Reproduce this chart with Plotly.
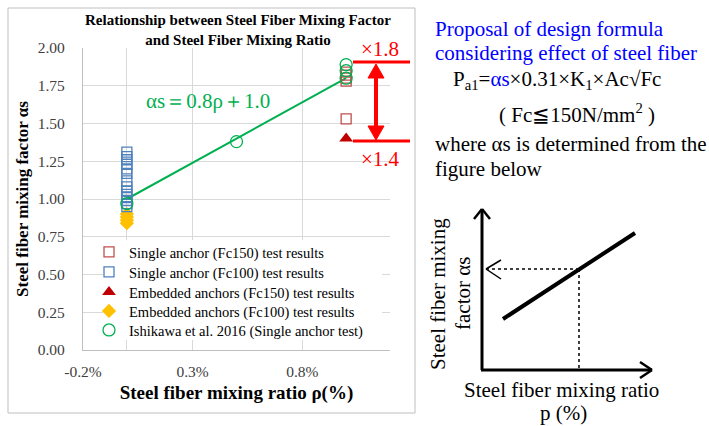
import plotly.graph_objects as go

# ---------------- data ----------------
fc150_single_x = [1.0, 1.0, 1.0, 1.0, 1.0]
fc150_single_y = [1.84, 1.82, 1.80, 1.78, 1.53]

fc100_single_x = [0.0] * 14
fc100_single_y = [1.31, 1.28, 1.26, 1.23, 1.20, 1.17, 1.12, 1.08, 1.05, 1.03, 1.01, 0.99, 0.97, 0.95]

fc150_embed_x = [1.0]
fc150_embed_y = [1.40]

fc100_embed_x = [0.0, 0.0, 0.0, 0.0]
fc100_embed_y = [0.90, 0.88, 0.86, 0.84]

ishikawa_x = [0.0, 0.5, 1.0, 1.0, 1.0]
ishikawa_y = [0.97, 1.38, 1.89, 1.85, 1.80]

fit_x = [0.0, 1.0]
fit_y = [1.0, 1.8]

y_ticks = [0.0, 0.25, 0.5, 0.75, 1.0, 1.25, 1.5, 1.75, 2.0]
x_tickvals = [-0.2, 0.0, 0.3, 0.8]
x_ticktext = ["-0.2%", "", "0.3%", "0.8%"]

# ---------------- layout helpers (pixel -> paper) ----------------
W, H = 709, 426
L, R, T, B = 83, 390, 48, 350


def px(x):
    return (x - L) / (R - L)


def py(y):
    return (B - y) / (B - T)


SERIF = "Liberation Serif"

fig = go.Figure()

fig.add_trace(go.Scatter(
    x=fit_x, y=fit_y, mode="lines", line=dict(color="#00B050", width=2),
    showlegend=False, hoverinfo="skip"))

fig.add_trace(go.Scatter(
    x=fc100_embed_x, y=fc100_embed_y, mode="markers",
    name="Embedded anchors (Fc100) test results", legend="legend4",
    marker=dict(symbol="diamond", size=11, color="#FFC000")))

fig.add_trace(go.Scatter(
    x=fc150_single_x, y=fc150_single_y, mode="markers",
    name="Single anchor (Fc150) test results", legend="legend",
    marker=dict(symbol="square-open", size=10, color="#C0504D", line=dict(width=1.3))))

fig.add_trace(go.Scatter(
    x=fc100_single_x, y=fc100_single_y, mode="markers",
    name="Single anchor (Fc100) test results", legend="legend2",
    marker=dict(symbol="square-open", size=10, color="#4F81BD", line=dict(width=1.3))))

fig.add_trace(go.Scatter(
    x=fc150_embed_x, y=fc150_embed_y, mode="markers",
    name="Embedded anchors (Fc150) test results", legend="legend3",
    marker=dict(symbol="triangle-up", size=12, color="#C00000")))

fig.add_trace(go.Scatter(
    x=ishikawa_x, y=ishikawa_y, mode="markers",
    name="Ishikawa et al. 2016 (Single anchor test)", legend="legend5",
    marker=dict(symbol="circle-open", size=12, color="#00B050", line=dict(width=1.3))))

shapes = []
annotations = []


def note(text, x, y, size, color="#000000", xanchor="center", angle=0):
    annotations.append(dict(text=text, x=px(x), y=py(y), xref="paper", yref="paper",
                            xanchor=xanchor, yanchor="middle", textangle=angle,
                            showarrow=False, font=dict(family=SERIF, size=size, color=color)))


# chart frame
shapes.append(dict(type="rect", xref="paper", yref="paper",
                   x0=px(8), x1=px(415), y0=py(413), y1=py(8),
                   line=dict(color="#BFBFBF", width=1), layer="below"))

# legend box background (hides gridlines behind legend)
shapes.append(dict(type="rect", xref="paper", yref="paper",
                   x0=px(103), x1=px(382), y0=py(340), y1=py(240),
                   fillcolor="white", line=dict(width=0), layer="above"))

# red bracket
RED = "#FF0000"
for yy in (62, 141):
    shapes.append(dict(type="line", xref="paper", yref="paper",
                       x0=px(353), x1=px(410), y0=py(yy), y1=py(yy),
                       line=dict(color=RED, width=3)))
shapes.append(dict(type="line", xref="paper", yref="paper",
                   x0=px(376), x1=px(376), y0=py(76), y1=py(127),
                   line=dict(color=RED, width=4)))


def tri(pts, color):
    d = "M " + " L ".join(f"{px(a)},{py(b)}" for a, b in pts) + " Z"
    return dict(type="path", xref="paper", yref="paper", path=d,
                fillcolor=color, line=dict(color=color, width=1))


shapes.append(tri([(376, 64), (368, 78), (384, 78)], RED))
shapes.append(tri([(376, 140), (368, 126), (384, 126)], RED))

note("×1.8", 380, 49, 21, RED)
note("×1.4", 380, 159, 21, RED)

# equation label
note("αs＝0.8ρ＋1.0", 208, 101, 21, "#00B050")

# title
note("<b>Relationship between Steel Fiber Mixing Factor<br>and Steel Fiber Mixing Ratio</b>", 238, 30, 15)

# right side text
BLUE = "#0000FF"
note("Proposal of design formula", 433, 29, 21, BLUE, "left")
note("considering effect of steel fiber", 433, 53, 21, BLUE, "left")
note("P<sub>a1</sub>=<span style='color:#0000FF'>αs</span>×0.31×K<sub>1</sub>×Ac√Fc", 451, 80, 21, "#000000", "left")
note("( Fc≦150N/mm<sup>2</sup> )", 577, 113, 21)
note("where αs is determined from the", 433, 144, 21, "#000000", "left")
note("figure below", 433, 169, 21, "#000000", "left")

# schematic
K = "#000000"


def seg(x0, y0, x1, y1, w, dash=None):
    ln = dict(color=K, width=w)
    if dash:
        ln["dash"] = dash
    return dict(type="line", xref="paper", yref="paper",
                x0=px(x0), y0=py(y0), x1=px(x1), y1=py(y1), line=ln)


shapes.append(seg(482, 370, 482, 209, 3))
shapes.append(seg(481, 370, 652, 370, 3))
shapes.append(seg(482, 209, 474, 219, 2.5))
shapes.append(seg(482, 209, 490, 219, 2.5))
shapes.append(seg(652, 370, 640, 362, 2.5))
shapes.append(seg(652, 370, 640, 378, 2.5))
shapes.append(seg(503, 319, 635, 233, 4))
shapes.append(seg(486, 269, 579, 269, 1.5, "dot"))
shapes.append(seg(579, 269, 579, 369, 1.5, "dot"))
shapes.append(seg(486, 269, 501, 260, 1.5))
shapes.append(seg(486, 269, 501, 279, 1.5))

note("Steel fiber mixing", 438, 294, 21, K, "center", -90)
note("factor αs", 463, 294, 21, K, "center", -90)
note("Steel fiber mixing ratio", 561, 390, 21)
note("p (%)", 563, 413, 21)


def leg(center_y):
    return dict(x=px(89), y=py(center_y - 14), xanchor="left", yanchor="top",
                bgcolor="rgba(0,0,0,0)", borderwidth=0, itemwidth=30,
                font=dict(family=SERIF, size=14.5, color="#000000"))


GRID = "#D9D9D9"
fig.update_layout(
    width=W, height=H,
    margin=dict(l=L, r=W - R, t=T, b=H - B, autoexpand=False),
    paper_bgcolor="white", plot_bgcolor="white",
    shapes=shapes, annotations=annotations,
    showlegend=True,
    legend=leg(250), legend2=leg(270), legend3=leg(290), legend4=leg(309), legend5=leg(328),
    xaxis=dict(range=[-0.2, 1.2], tickvals=x_tickvals, ticktext=x_ticktext,
               showgrid=True, gridcolor=GRID, gridwidth=1.3,
               zeroline=False, showline=True, linecolor="#BFBFBF", linewidth=1.3,
               ticks="outside", ticklen=7, tickcolor="rgba(0,0,0,0)",
               tickfont=dict(family=SERIF, size=15.5, color="#404040"),
               title=dict(text="<b>Steel fiber mixing ratio ρ(%)</b>", standoff=6,
                          font=dict(family=SERIF, size=19, color="#000000"))),
    yaxis=dict(range=[0, 2.0], tickvals=y_ticks, tickformat=".2f",
               showgrid=True, gridcolor=GRID, gridwidth=1.3,
               zeroline=False, showline=True, linecolor="#BFBFBF", linewidth=1.3,
               ticks="outside", ticklen=14, tickcolor="rgba(0,0,0,0)",
               tickfont=dict(family=SERIF, size=15.5, color="#404040"),
               title=dict(text="<b>Steel fiber mixing factor αs</b>", standoff=4,
                          font=dict(family=SERIF, size=17, color="#000000"))),
)

fig.write_html("out.html", post_script="document.body.style.margin='0';",
               config={"displayModeBar": False})
